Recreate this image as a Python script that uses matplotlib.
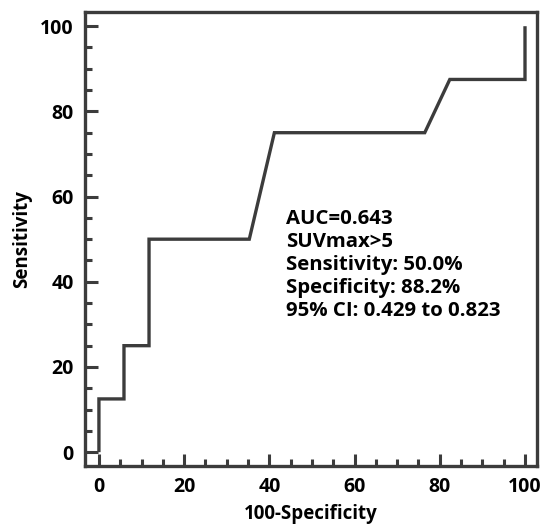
import matplotlib
matplotlib.use("Agg")
import matplotlib.pyplot as plt
from matplotlib.ticker import MultipleLocator

# ROC curve data (100-Specificity, Sensitivity)
fpr = [0, 0, 5.88, 5.88, 11.76, 11.76, 35.29, 41.18, 76.47, 82.35, 100, 100]
tpr = [0, 12.5, 12.5, 25, 25, 50, 50, 75, 75, 87.5, 87.5, 100]
annotation_lines = ["AUC=0.643", "SUVmax>5", "Sensitivity: 50.0%",
                    "Specificity: 88.2%", "95% CI: 0.429 to 0.823"]
xlabel = "100-Specificity"
ylabel = "Sensitivity"

plt.rcParams['font.family'] = ['Open Sans', 'DejaVu Sans']
plt.rcParams['font.weight'] = 'bold'

C = '#3c3c3c'
fig = plt.figure(figsize=(5.44, 5.28), dpi=100)
ax = fig.add_axes([0.156, 0.117, 0.831, 0.860])
ax.plot(fpr, tpr, color=C, lw=2.4, solid_joinstyle='miter', solid_capstyle='butt')
ax.set_xlim(-3.3, 102.8)
ax.set_ylim(-3.3, 103.3)
for s in ax.spines.values():
    s.set_color(C)
    s.set_linewidth(2.4)
ax.xaxis.set_major_locator(MultipleLocator(20))
ax.xaxis.set_minor_locator(MultipleLocator(5))
ax.yaxis.set_major_locator(MultipleLocator(20))
ax.yaxis.set_minor_locator(MultipleLocator(5))
ax.tick_params(which='both', direction='in', color=C, width=2.2,
               top=False, right=False, labelsize=14, labelcolor='black')
ax.tick_params(which='major', length=9, pad=8)
ax.tick_params(which='minor', length=5)
for lab in ax.get_xticklabels() + ax.get_yticklabels():
    lab.set_fontweight('bold')
ax.set_xlabel(xlabel, fontsize=13.5, fontweight='bold', labelpad=5)
ax.set_ylabel(ylabel, fontsize=13.5, fontweight='bold', labelpad=6)
ax.text(43.9, 57.0, "\n".join(annotation_lines), fontsize=14.7, fontweight='bold',
        va='top', ha='left', linespacing=1.2, color='black')
fig.savefig("out.png", dpi=100)
